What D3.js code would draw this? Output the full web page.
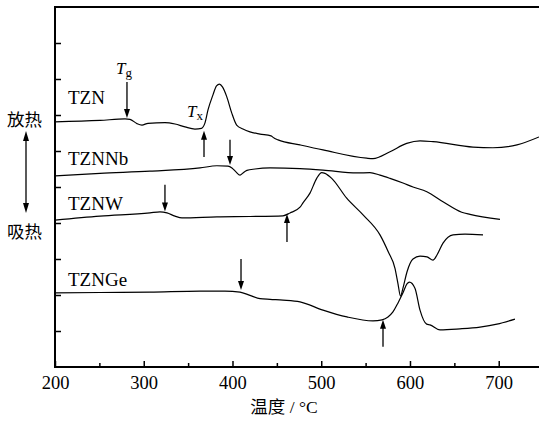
<!DOCTYPE html>
<html><head><meta charset="utf-8">
<script src="https://cdn.jsdelivr.net/npm/d3@7"></script>
<style>body{margin:0;background:#fff}svg{display:block}</style>
</head><body><svg id="c" width="539" height="422"></svg>
<script>
// Temperature (°C) and DSC signal (arbitrary units, offset per sample)
const tznT = [200,250.7,278.9,284.5,292.4,298.0,304.8,323.9,335.2,346.5,357.7,365.1,369.0,372.4,378.0,382.0,385.4,388.7,393.5,399.1,404.7,411.8,419.7,431.0,443.4,446.8,451.3,476.1,502.0,551.2,558.3,577.5,596.3,611.3,625.9,671.0,693.5,720.6,745.4];
const tznV = [6.81,6.85,6.89,6.88,6.76,6.72,6.77,6.79,6.75,6.67,6.61,6.63,6.78,7.14,7.56,7.81,7.86,7.78,7.51,7.06,6.72,6.61,6.53,6.47,6.42,6.36,6.31,6.17,6.03,5.80,5.79,5.98,6.21,6.28,6.26,6.11,6.09,6.17,6.39];
const tznnbT = [200,250.7,307.0,363.4,382.5,394.9,399.4,403.9,408.5,411.8,416.3,425.4,442.3,476.1,502.0,540.3,554.9,566.2,577.5,592.1,603.4,619.0,637.2,658.3,667.6,701.4];
const tznnbV = [5.31,5.38,5.44,5.53,5.59,5.58,5.53,5.42,5.33,5.39,5.46,5.50,5.53,5.51,5.47,5.39,5.40,5.33,5.24,5.11,5.00,4.87,4.59,4.30,4.24,4.10];
const tznwT = [200,250.7,307.0,318.3,326.2,335.2,343.1,382.5,419.7,456.9,464.8,476.1,479.4,487.3,494.9,500.5,504.2,511.8,528.7,547.4,566.2,575.5,583.1,586.5,589.3,592.1,596.6,603.4,611.3,619.2,625.9,630.4,637.2,648.5,662.0,682.3];
const tznwV = [4.08,4.19,4.28,4.31,4.28,4.19,4.14,4.17,4.18,4.20,4.28,4.44,4.56,4.83,5.24,5.40,5.38,5.24,4.69,4.22,3.67,3.20,2.74,2.31,1.97,2.19,2.64,3.00,3.08,3.06,2.97,3.11,3.44,3.67,3.69,3.67];
const tzngeT = [200,250.7,307.0,363.4,391.5,408.5,419.7,431.0,442.3,456.9,476.1,502.0,529.0,558.3,568.5,575.2,580.8,586.5,592.1,596.6,599.4,605.6,611.3,618.8,622.5,633.8,656.3,678.9,698.0,718.3];
const tzngeV = [2.06,2.07,2.08,2.11,2.11,2.08,1.99,1.90,1.88,1.86,1.81,1.58,1.39,1.28,1.31,1.39,1.53,1.78,2.06,2.31,2.36,2.19,1.58,1.19,1.17,1.03,1.06,1.11,1.19,1.33];

const seriesNames = ["TZN","TZNNb","TZNW","TZNGe"];
const seriesLabelY = [7.3, 5.6, 4.35, 2.25];   // label baseline in data units
const xTickValues = [200,300,400,500,600,700];
const xMinorValues = [250,350,450,550,650,750];
const yTickValues = [1,2,3,4,5,6,7,8,9];

// Arrows: temperature, tail value, tip value
const arrowT = [281.1, 367.9, 397.2, 323.9, 461.4, 409.6, 569.6];
const arrowFrom = [7.92, 5.83, 6.31, 5.06, 3.47, 3.00, 0.56];
const arrowTo = [6.92, 6.56, 5.61, 4.32, 4.25, 2.14, 1.31];

const svg = d3.select("#c");
const x = d3.scaleLinear().domain([200,750]).range([55,543.1]);
const y = d3.scaleLinear().domain([0,10]).range([367,7]);
const FONT = "'Liberation Serif','Times New Roman','Noto Sans CJK SC',serif";

// curves
const line = d3.line().x(d=>x(d[0])).y(d=>y(d[1])).curve(d3.curveMonotoneX);
const series = [[tznT,tznV],[tznnbT,tznnbV],[tznwT,tznwV],[tzngeT,tzngeV]];
series.forEach(([T,V])=>{
  svg.append("path").datum(T.map((t,i)=>[t,V[i]]))
    .attr("d",line).attr("fill","none").attr("stroke","#000").attr("stroke-width",1.2);
});

// axes
const xAxis = d3.axisBottom(x).tickValues(xTickValues).tickSize(-6).tickPadding(9).tickFormat(d3.format("d"));
const gx = svg.append("g").attr("transform","translate(0,367)").call(xAxis);
gx.select(".domain").remove();
gx.selectAll("line").attr("stroke","#000").attr("stroke-width",1.5);
gx.selectAll("text").attr("font-family",FONT).attr("font-size",18.5).attr("fill","#000");
const gxm = svg.append("g").attr("transform","translate(0,367)")
  .call(d3.axisBottom(x).tickValues(xMinorValues).tickSize(-4).tickFormat(""));
gxm.select(".domain").remove();
gxm.selectAll("line").attr("stroke","#000").attr("stroke-width",1.5);

const gy = svg.append("g").attr("transform","translate(55,0)")
  .call(d3.axisLeft(y).tickValues(yTickValues).tickSize(-6).tickFormat(""));
gy.select(".domain").remove();
gy.selectAll("line").attr("stroke","#000").attr("stroke-width",1.5);

// frame lines
svg.append("line").attr("x1",x(200)).attr("x2",545).attr("y1",y(0)).attr("y2",y(0)).attr("stroke","#000").attr("stroke-width",2);
svg.append("line").attr("x1",x(200)).attr("x2",545).attr("y1",y(10)).attr("y2",y(10)).attr("stroke","#000").attr("stroke-width",2);
svg.append("line").attr("x1",x(200)).attr("x2",x(200)).attr("y1",y(10)-1).attr("y2",y(0)+1).attr("stroke","#000").attr("stroke-width",2);

// arrows
function arrow(px, y0, y1){
  const dir = y1 > y0 ? 1 : -1; // pixel direction of travel
  const hl = 9, hw = 3;
  svg.append("line").attr("x1",px).attr("x2",px).attr("y1",y0).attr("y2",y1 - dir*hl*0.8)
    .attr("stroke","#000").attr("stroke-width",1.3);
  svg.append("path").attr("d",`M${px},${y1} L${px-hw},${y1-dir*hl} L${px+hw},${y1-dir*hl} Z`).attr("fill","#000");
}
arrowT.forEach((t,i)=>arrow(x(t), y(arrowFrom[i]), y(arrowTo[i])));

// series labels
seriesNames.forEach((n,i)=>{
  svg.append("text").attr("x",68).attr("y",y(seriesLabelY[i])).text(n)
    .attr("font-family",FONT).attr("font-size",19).attr("fill","#000");
});

// Tg, Tx labels
function tlabel(px, py, sub){
  const t = svg.append("text").attr("x",px).attr("y",py).attr("font-family",FONT).attr("fill","#000");
  t.append("tspan").attr("font-style","italic").attr("font-size",17).text("T");
  t.append("tspan").attr("font-size",13).attr("dy",3).text(sub);
}
tlabel(116, 74, "g");
tlabel(187, 117, "x");

// left exo/endo indicator
svg.append("text").attr("x",7).attr("y",126).text("放热").attr("font-family",FONT).attr("font-size",17.5).attr("fill","#000");
svg.append("text").attr("x",7).attr("y",238).text("吸热").attr("font-family",FONT).attr("font-size",17.5).attr("fill","#000");
svg.append("line").attr("x1",26).attr("x2",26).attr("y1",138).attr("y2",206).attr("stroke","#000").attr("stroke-width",1.3);
svg.append("path").attr("d","M26,131 L23,141 L29,141 Z").attr("fill","#000");
svg.append("path").attr("d","M26,213 L23,203 L29,203 Z").attr("fill","#000");

// x axis title
svg.append("text").attr("x",284).attr("y",413).attr("text-anchor","middle")
  .attr("font-family",FONT).attr("font-size",17.5).attr("fill","#000").text("温度 / °C");
</script>
</body></html>
